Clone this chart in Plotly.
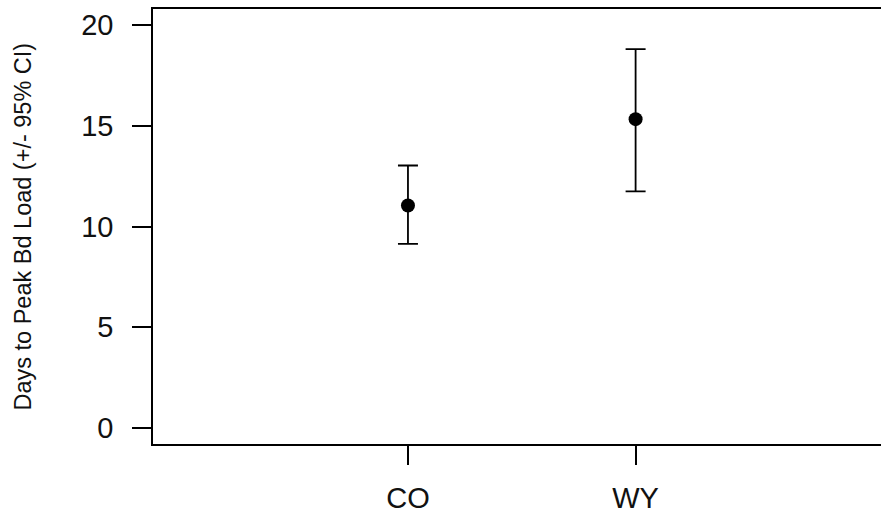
import plotly.graph_objects as go

# Days to peak Bd load by site, with 95% confidence limits
sites = ["CO", "WY"]
site_pos = [1, 2]
days_mean = [11.04, 15.33]
ci_lower = [9.14, 11.74]
ci_upper = [13.03, 18.81]
y_ticks = [0, 5, 10, 15, 20]

err_plus = [u - m for u, m in zip(ci_upper, days_mean)]
err_minus = [m - l for m, l in zip(days_mean, ci_lower)]

FONT = "Liberation Sans, Arial, sans-serif"

fig = go.Figure(
    go.Scatter(
        x=site_pos,
        y=days_mean,
        mode="markers",
        marker=dict(color="black", size=14, symbol="circle"),
        error_y=dict(
            type="data",
            symmetric=False,
            array=err_plus,
            arrayminus=err_minus,
            color="black",
            thickness=1.8,
            width=10,
        ),
        showlegend=False,
    )
)

fig.update_layout(
    width=881,
    height=520,
    margin=dict(l=153, r=0, t=9, b=76),
    paper_bgcolor="white",
    plot_bgcolor="white",
    font=dict(family=FONT, color="black"),
    xaxis=dict(
        range=[-0.12, 3.078],
        tickvals=site_pos,
        ticktext=sites,
        showline=True,
        mirror=True,
        linecolor="black",
        linewidth=1.5,
        ticks="outside",
        ticklen=19,
        tickwidth=1.5,
        tickcolor="black",
        ticklabelstandoff=8,
        tickfont=dict(size=29, family=FONT, color="#111"),
        showgrid=False,
        zeroline=False,
    ),
    yaxis=dict(
        range=[-0.8, 20.8],
        tickvals=y_ticks,
        showline=True,
        linecolor="black",
        linewidth=1.5,
        ticks="outside",
        ticklen=19,
        tickwidth=1.5,
        tickcolor="black",
        ticklabelstandoff=13,
        tickfont=dict(size=29, family=FONT, color="#111"),
        showgrid=False,
        zeroline=False,
    ),
    annotations=[
        dict(
            text="Days to Peak Bd Load (+/- 95% CI)",
            xref="paper",
            yref="paper",
            x=0,
            y=0.5,
            xshift=-131,
            xanchor="center",
            yanchor="middle",
            textangle=-90,
            showarrow=False,
            font=dict(size=23.5, family=FONT, color="#111"),
        )
    ],
)

fig.write_html("out.html")
